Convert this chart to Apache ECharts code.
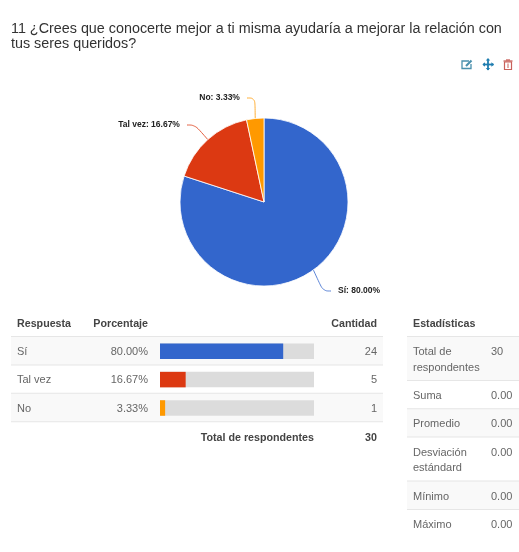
<!DOCTYPE html>
<html>
<head>
<meta charset="utf-8">
<style>html,body{margin:0;padding:0;background:#fff}#c{width:519px;height:552px}</style>
<script src="https://cdn.jsdelivr.net/npm/echarts@6/dist/echarts.min.js"></script>
</head>
<body>
<div id="c"></div>
<script>
const titleLines = ['11 ¿Crees que conocerte mejor a ti misma ayudaría a mejorar la relación con', 'tus seres queridos?'];
const categories = ['Sí', 'Tal vez', 'No'];
const percentages = [80.00, 16.67, 3.33];
const counts = [24, 5, 1];
const colors = ['#3366cc', '#dc3912', '#ff9900'];
const totalCount = 30;
const statLabels = [['Total de', 'respondentes'], ['Suma'], ['Promedio'], ['Desviación', 'estándard'], ['Mínimo'], ['Máximo']];
const statValues = ['30', '0.00', '0.00', '0.00', '0.00', '0.00'];

const FONT = '"Liberation Sans", Arial, sans-serif';
// Anchors sit a few pixels off the text: non-breaking spaces keep the leader line clear of it
const labelSpots = [
  { x: 331, y: 291, align: 'left' },
  { x: 187, y: 125, align: 'right' },
  { x: 247, y: 98, align: 'right' }
];
const GAP = '\u00a0\u00a0\u00a0';

const g = [];
const text = (x, y, t, o = {}) => g.push({
  type: 'text', x, y: y + 1, z: 5,
  style: {
    text: t, fontFamily: FONT, fontSize: o.size || 11, fontWeight: o.bold ? 'bold' : 'normal',
    fill: o.fill || '#666', align: o.align || 'left', verticalAlign: 'middle'
  }
});
const band = (x, y, w, h, fill) => g.push({ type: 'rect', z: 0, shape: { x, y, width: w, height: h }, style: { fill } });
const rule = (x, y, w) => g.push({ type: 'rect', z: 1, shape: { x, y: y - 0.5, width: w, height: 1 }, style: { fill: '#e6e6e6' } });

// Question heading
titleLines.forEach((line, i) => text(11, 28 + i * 15, line, { size: 14.35, fill: '#333' }));

// Answers table: header, striped rows, footer
const rowTop = 336.5, rowH = 28.4;
text(17, 323, 'Respuesta', { bold: true, fill: '#444', size: 10.7 });
text(148, 323, 'Porcentaje', { bold: true, fill: '#444', align: 'right', size: 10.7 });
text(377, 323, 'Cantidad', { bold: true, fill: '#444', align: 'right', size: 10.7 });
categories.forEach((name, i) => {
  const y = rowTop + rowH * i;
  if (i % 2 === 0) band(11, y, 372, rowH, '#f9f9f9');
  rule(11, y, 372);
  text(17, y + rowH / 2, name);
  text(148, y + rowH / 2, percentages[i].toFixed(2) + '%', { align: 'right' });
  text(377, y + rowH / 2, String(counts[i]), { align: 'right' });
});
rule(11, rowTop + rowH * 3, 372);
text(314, 437, 'Total de respondentes', { bold: true, fill: '#444', align: 'right', size: 10.7 });
text(377, 437, String(totalCount), { bold: true, fill: '#444', align: 'right', size: 10.7 });

// Statistics table; two-line labels get a taller row
text(413, 323, 'Estadísticas', { bold: true, fill: '#444', size: 10.7 });
let sy = 336.5;
statLabels.forEach((lines, i) => {
  const h = lines.length > 1 ? 44 : 28.3;
  if (i % 2 === 0) band(407, sy, 112, h, '#f9f9f9');
  rule(407, sy, 112);
  lines.forEach((l, j) => text(413, sy + 14.6 + j * 15.5, l));
  text(491, sy + 14.6, statValues[i]);
  sy += h;
});

// Toolbar icons: edit, move, delete
const icon = (shape, style, type) => g.push({ type: type || 'polyline', z: 5, shape, style });
const teal = '#4a90ad', blue = '#1f7db0', red = '#c9605a';
icon({ points: [[469, 61], [462, 61], [462, 68.5], [471, 68.5], [471, 64]] }, { stroke: teal, lineWidth: 1.3, fill: null });
icon({ points: [[466, 66], [471.5, 60.5]] }, { stroke: teal, lineWidth: 2.2, fill: null });
icon({ points: [[483, 64.5], [493.5, 64.5]] }, { stroke: blue, lineWidth: 1.8, fill: null });
icon({ points: [[488, 59], [488, 70]] }, { stroke: blue, lineWidth: 1.8, fill: null });
[[[488, 58], [485.8, 60.6], [490.2, 60.6]], [[488, 70.6], [485.8, 68], [490.2, 68]],
 [[482.4, 64.5], [485, 62.3], [485, 66.7]], [[494, 64.5], [491.4, 62.3], [491.4, 66.7]]]
  .forEach(p => icon({ points: p }, { fill: blue }, 'polygon'));
icon({ x: 504.5, y: 62, width: 7, height: 7.5 }, { fill: 'none', stroke: red, lineWidth: 1.2 }, 'rect');
icon({ points: [[503.5, 61], [512.5, 61]] }, { stroke: red, lineWidth: 1.3, fill: null });
icon({ points: [[506, 60], [510, 60]] }, { stroke: red, lineWidth: 1.3, fill: null });
icon({ points: [[508, 63.5], [508, 68]] }, { stroke: red, lineWidth: 1, fill: null });

const chart = echarts.init(document.getElementById('c'), null, { renderer: 'canvas' });
chart.setOption({
  animation: false,
  graphic: { elements: g },
  grid: { left: 160, top: 337, width: 154, height: 85.2 },
  xAxis: { type: 'value', min: 0, max: 100, show: false },
  yAxis: { type: 'category', data: categories, inverse: true, show: false },
  series: [
    {
      type: 'pie',
      center: [264, 202],
      radius: [0, 84],
      startAngle: 90,
      clockwise: true,
      z: 3,
      data: categories.map((name, i) => ({ name, value: counts[i], itemStyle: { color: colors[i] } })),
      itemStyle: { borderColor: '#fff', borderWidth: 0.8 },
      label: {
        formatter: p => {
          const s = p.name + ': ' + percentages[p.dataIndex].toFixed(2) + '%';
          return labelSpots[p.dataIndex].align === 'left' ? GAP + s : s + GAP;
        },
        fontFamily: FONT, fontSize: 8.5, fontWeight: 'bold', color: '#222'
      },
      labelLayout: p => ({
        x: labelSpots[p.dataIndex].x, y: labelSpots[p.dataIndex].y,
        align: labelSpots[p.dataIndex].align, verticalAlign: 'middle'
      }),
      labelLine: { show: true, smooth: 0.4, length: 14, length2: 8, lineStyle: { width: 0.8 } }
    },
    {
      type: 'bar',
      barWidth: 15.5,
      z: 3,
      showBackground: true,
      backgroundStyle: { color: '#dcdcdc' },
      data: percentages.map((v, i) => ({ value: v, itemStyle: { color: colors[i] } }))
    }
  ]
});
</script>
</body>
</html>
